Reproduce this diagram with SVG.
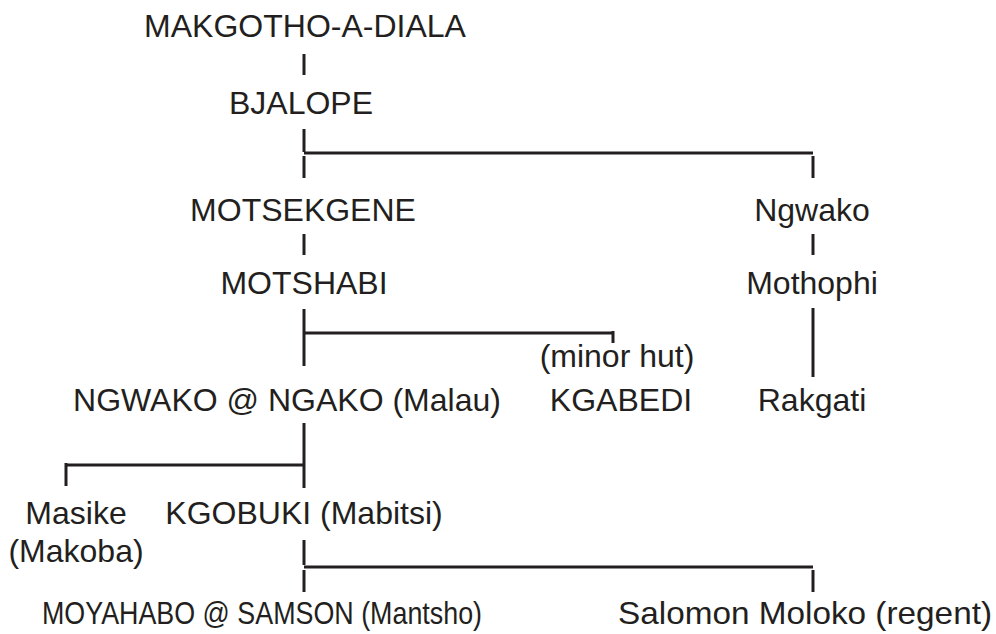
<svg xmlns="http://www.w3.org/2000/svg" width="996" height="634" viewBox="0 0 996 634">
<style>
text{font-family:"Liberation Sans",Arial,sans-serif;font-size:32px;fill:#231f20;text-anchor:middle}
text.s{text-anchor:start}
.c line{stroke:#231f20;stroke-width:3;fill:none}
</style>
<rect width="996" height="634" fill="#fff"/>
<g class="c" id="connectors">
<line x1="304" y1="54" x2="304" y2="75"/>
<line x1="304" y1="129" x2="304" y2="152"/>
<line x1="304" y1="153" x2="813" y2="153"/>
<line x1="304" y1="156" x2="304" y2="178"/>
<line x1="813" y1="156" x2="813" y2="178"/>
<line x1="304" y1="234" x2="304" y2="255"/>
<line x1="813" y1="234" x2="813" y2="255"/>
<line x1="304" y1="309" x2="304" y2="366"/>
<line x1="304" y1="333" x2="613" y2="333"/>
<line x1="613" y1="331" x2="613" y2="343"/>
<line x1="813" y1="308" x2="813" y2="377"/>
<line x1="304" y1="423" x2="304" y2="488"/>
<line x1="66" y1="465" x2="304" y2="465"/>
<line x1="66" y1="463" x2="66" y2="486"/>
<line x1="304" y1="540" x2="304" y2="565"/>
<line x1="304" y1="567" x2="813" y2="567"/>
<line x1="304" y1="570" x2="304" y2="592"/>
<line x1="813" y1="570" x2="813" y2="592"/>
</g>
<g id="n1"><text x="305" y="37">MAKGOTHO-A-DIALA</text></g>
<g id="n2"><text x="301" y="114">BJALOPE</text></g>
<g id="n3"><text x="303" y="221">MOTSEKGENE</text></g>
<g id="n4"><text x="812" y="221">Ngwako</text></g>
<g id="n5"><text x="304" y="294">MOTSHABI</text></g>
<g id="n6"><text x="812" y="294">Mothophi</text></g>
<g id="n7"><text x="287" y="411">NGWAKO @ NGAKO (Malau)</text></g>
<g id="n8"><text x="617" y="367">(minor hut)</text><text x="621" y="411">KGABEDI</text></g>
<g id="n9"><text x="812" y="411">Rakgati</text></g>
<g id="n10"><text x="76" y="524">Masike</text><text x="76" y="562">(Makoba)</text></g>
<g id="n11"><text x="304" y="524">KGOBUKI (Mabitsi)</text></g>
<g id="n12"><text class="s" x="42" y="624" textLength="440" lengthAdjust="spacingAndGlyphs">MOYAHABO @ SAMSON (Mantsho)</text></g>
<g id="n13"><text class="s" x="618" y="624" textLength="374" lengthAdjust="spacingAndGlyphs">Salomon Moloko (regent)</text></g>
</svg>
